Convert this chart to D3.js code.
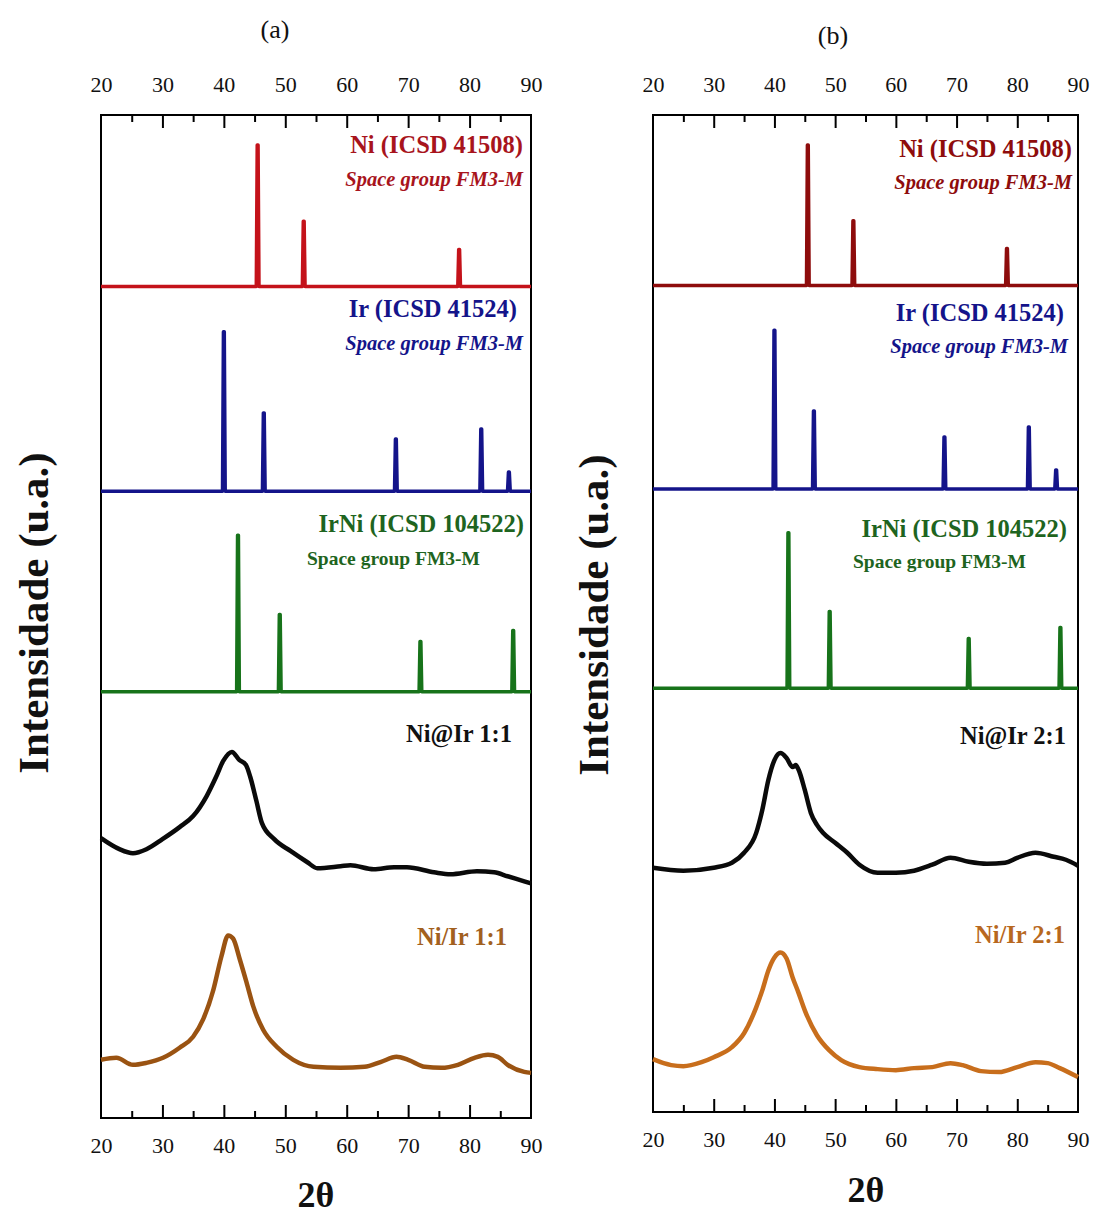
<!DOCTYPE html>
<html>
<head>
<meta charset="UTF-8">
<script src="https://cdn.jsdelivr.net/npm/d3@7"></script>
<title>DRX Ni Ir</title>
<style>
    body { margin: 0; background: #fff; }
    svg text { font-family: 'Liberation Serif', 'Times New Roman', serif; }
</style>
</head>
<body>
<div id="chart"></div>
<script>
// x ticks (2 theta)
const xMajor = [20, 30, 40, 50, 60, 70, 80, 90];
const xMinor = [25, 35, 45, 55, 65, 75, 85];

// reference patterns: baseline and [2theta, top] of each line (u.a.)
const niBase = 82.9;
const niPeaks = [[45.5, 97.0], [53.0, 89.4], [78.3, 86.6]];
const irBase = 62.5;
const irPeaks = [[40.0, 78.4], [46.5, 70.3], [68.0, 67.7], [81.9, 68.7], [86.4, 64.4]];
const irniBase = 42.5;
const irniPeaks = [[42.3, 58.1], [49.1, 50.2], [72.0, 47.5], [87.1, 48.6]];

// measured samples, panel (a)
const niAtIr11 = [[20, 27.9], [23, 26.8], [25.2, 26.4], [27.4, 26.8], [30, 27.8], [32.8, 29.0], [35, 30.1],
    [37.2, 32.1], [38.8, 34.1], [39.9, 35.6], [41.3, 36.5], [42.5, 35.7], [43.6, 35.2], [44.3, 34.0],
    [45.3, 31.6], [46.2, 29.4], [48.2, 27.8], [50.9, 26.6], [53.6, 25.5], [55.2, 24.9], [59, 25.1],
    [60.6, 25.2], [64.4, 24.8], [67.7, 25.0], [69.8, 25.0], [74.2, 24.5], [76.9, 24.3], [81.2, 24.6],
    [84, 24.5], [86.2, 24.1], [88.9, 23.6], [90, 23.4]];
const niIr11 = [[20, 5.8], [22.5, 6.0], [25.2, 5.3], [27.4, 5.5], [30.1, 6.0], [32.8, 7.0], [35, 8.1],
    [36.6, 9.8], [38.3, 12.8], [39.6, 16.1], [40.7, 18.2], [41.5, 17.9], [42.6, 15.8], [43.7, 13.5],
    [44.8, 11.1], [46.4, 8.8], [48.6, 7.1], [51.3, 5.8], [54.6, 5.1], [59, 5.0], [62.9, 5.1], [65.6, 5.6],
    [68.1, 6.1], [70, 5.8], [72.7, 5.1], [75.4, 5.0], [78.1, 5.3], [80.8, 6.0], [83, 6.3], [84.6, 6.1],
    [86.2, 5.3], [88.9, 4.6], [90, 4.5]];

// measured samples, panel (b)
const niAtIr21 = [[20, 24.5], [25, 24.2], [30, 24.5], [33, 25.0], [35, 26.0], [37, 28.0], [38, 30.3],
    [39, 33.3], [40, 35.3], [41, 36.0], [42, 35.5], [43, 34.6], [43.5, 34.8], [44, 34.3], [45, 32.3],
    [46, 30.0], [47, 28.8], [48, 28.0], [50, 27.0], [52, 26.0], [54, 24.8], [57, 24.0], [60, 24.0],
    [63, 24.2], [66, 24.8], [69, 25.5], [72, 25.1], [75, 24.9], [78, 25.0], [80, 25.5], [83, 26.0],
    [86, 25.6], [88, 25.3], [90, 24.7]];
const niIr21 = [[20, 5.3], [23, 4.7], [25, 4.6], [28, 5.0], [30, 5.5], [33, 6.5], [35, 7.9], [37, 10.5],
    [38, 12.2], [39, 14.2], [40, 15.5], [41, 16.0], [42, 15.4], [43, 13.5], [44, 11.9], [45, 10.2],
    [47, 7.7], [49, 6.2], [51, 5.2], [54, 4.5], [57, 4.3], [60, 4.2], [63, 4.4], [66, 4.5], [69, 4.9],
    [71, 4.7], [74, 4.1], [77, 4.0], [80, 4.5], [83, 5.0], [85, 4.9], [87, 4.4], [90, 3.5]];

const W = 1094, H = 1216;
const svg = d3.select("#chart").append("svg").attr("width", W).attr("height", H);

// turn sticks into a narrow peak line
const stickPoints = (base, peaks) => {
    const pts = [[20, base]];
    peaks.forEach(p => {
        pts.push([p[0] - 0.22, base], [p[0] - 0.07, p[1]], [p[0] + 0.07, p[1]], [p[0] + 0.22, base]);
    });
    pts.push([90, base]);
    return pts;
};

const drawPanel = (cfg) => {
    const g = svg.append("g");
    const x = d3.scaleLinear().domain([20, 90]).range([cfg.left, cfg.right]);
    const y = d3.scaleLinear().domain([0, 100]).range([cfg.bottom, cfg.top]);

    const line = d3.line().x(d => x(d[0])).y(d => y(d[1]));
    const smooth = d3.line().x(d => x(d[0])).y(d => y(d[1])).curve(d3.curveMonotoneX);

    // frame
    g.append("rect")
        .attr("x", cfg.left).attr("y", cfg.top)
        .attr("width", cfg.right - cfg.left).attr("height", cfg.bottom - cfg.top)
        .attr("fill", "none").attr("stroke", "#000").attr("stroke-width", 2);

    // axes, ticks inside
    g.append("g").attr("transform", `translate(0,${cfg.top})`)
        .call(d3.axisTop(x).tickValues(xMajor).tickSize(-13).tickPadding(23).tickFormat(d3.format("d")));
    g.append("g").attr("transform", `translate(0,${cfg.bottom})`)
        .call(d3.axisBottom(x).tickValues(xMajor).tickSize(-13).tickPadding(cfg.botPad).tickFormat(d3.format("d")));
    g.append("g").attr("transform", `translate(0,${cfg.top})`)
        .call(d3.axisTop(x).tickValues(xMinor).tickSize(-7).tickFormat(""));
    g.append("g").attr("transform", `translate(0,${cfg.bottom})`)
        .call(d3.axisBottom(x).tickValues(xMinor).tickSize(-7).tickFormat(""));
    g.selectAll(".domain").remove();
    g.selectAll(".tick line").attr("stroke", "#000").attr("stroke-width", 2);
    g.selectAll(".tick text").attr("fill", "#111").style("font-size", "22px")
        .style("font-family", "'Liberation Serif', serif");
    // edge ticks sit on the frame; hide them
    g.selectAll(".tick").filter(d => d === 20 || d === 90).select("line").remove();

    // reference patterns
    const refs = [
        {base: niBase, peaks: niPeaks, color: cfg.niColor},
        {base: irBase, peaks: irPeaks, color: cfg.irColor},
        {base: irniBase, peaks: irniPeaks, color: cfg.irniColor}
    ];
    refs.forEach(r => {
        g.append("path").datum(stickPoints(r.base, r.peaks))
            .attr("d", line).attr("fill", "none").attr("stroke", r.color)
            .attr("stroke-width", 3.5).attr("stroke-linejoin", "round");
    });

    // measured samples
    g.append("path").datum(cfg.black).attr("d", smooth).attr("fill", "none")
        .attr("stroke", "#0a0a0a").attr("stroke-width", 4.5).attr("stroke-linejoin", "round");
    g.append("path").datum(cfg.brown).attr("d", smooth).attr("fill", "none")
        .attr("stroke", cfg.brownColor).attr("stroke-width", 4.5).attr("stroke-linejoin", "round");

    // labels
    const lab = (txt, xx, yy, color, size, opts = {}) => g.append("text")
        .attr("x", xx).attr("y", yy).attr("fill", color)
        .attr("text-anchor", opts.anchor || "end")
        .style("font-size", size + "px").style("font-weight", "bold")
        .style("font-style", opts.italic ? "italic" : "normal").text(txt);

    const L = cfg.labels;
    lab("Ni (ICSD 41508)", L.ni[0], L.ni[1], cfg.niText, 24.5);
    lab("Space group FM3-M", L.niSg[0], L.niSg[1], cfg.niText, 20.5, {italic: true});
    lab("Ir (ICSD 41524)", L.ir[0], L.ir[1], cfg.irColor, 24.5);
    lab("Space group FM3-M", L.irSg[0], L.irSg[1], cfg.irColor, 20.5, {italic: true});
    lab("IrNi (ICSD 104522)", L.irni[0], L.irni[1], cfg.irniText, 24.5);
    lab("Space group FM3-M", L.irniSg[0], L.irniSg[1], cfg.irniText, 19.5, {anchor: "start"});
    lab(cfg.blackName, L.black[0], L.black[1], "#111", 24.5);
    lab(cfg.brownName, L.brown[0], L.brown[1], cfg.brownText, 24.5);

    // titles
    svg.append("text").attr("x", cfg.tag[0]).attr("y", cfg.tag[1]).attr("text-anchor", "middle")
        .style("font-size", "26px").attr("fill", "#111").text(cfg.tagText);
    svg.append("text").attr("transform", `translate(${cfg.ylab[0]},${cfg.ylab[1]}) rotate(-90)`)
        .attr("text-anchor", "middle").style("font-size", "43px").style("font-weight", "bold")
        .attr("fill", "#111").text("Intensidade (u.a.)");
    svg.append("text").attr("x", cfg.xlab[0]).attr("y", cfg.xlab[1]).attr("text-anchor", "middle")
        .style("font-size", "36px").style("font-weight", "bold").attr("fill", "#111").text("2θ");
};

drawPanel({
    left: 101, right: 531, top: 115, bottom: 1118, botPad: 19,
    niColor: "#c4121a", niText: "#a8141c", irColor: "#14148a", irniColor: "#17731a", irniText: "#1e6420",
    brownColor: "#9a5312", brownText: "#a2601e",
    black: niAtIr11, brown: niIr11, blackName: "Ni@Ir 1:1", brownName: "Ni/Ir 1:1",
    labels: {ni: [523, 153], niSg: [523, 186], ir: [517, 317], irSg: [523, 350],
        irni: [524, 532], irniSg: [307, 565], black: [512, 742], brown: [507, 945]},
    tag: [275, 38], tagText: "(a)", ylab: [48, 613], xlab: [316, 1207]
});

drawPanel({
    left: 653, right: 1078, top: 115, bottom: 1112, botPad: 19,
    niColor: "#8e0c0c", niText: "#8e0c0c", irColor: "#14148a", irniColor: "#17731a", irniText: "#1e6420",
    brownColor: "#c86e1c", brownText: "#b8681e",
    black: niAtIr21, brown: niIr21, blackName: "Ni@Ir 2:1", brownName: "Ni/Ir 2:1",
    labels: {ni: [1072, 157], niSg: [1072, 189], ir: [1064, 321], irSg: [1068, 353],
        irni: [1067, 537], irniSg: [853, 568], black: [1066, 744], brown: [1065, 943]},
    tag: [833, 44], tagText: "(b)", ylab: [608, 615], xlab: [866, 1202]
});
</script>
</body>
</html>
